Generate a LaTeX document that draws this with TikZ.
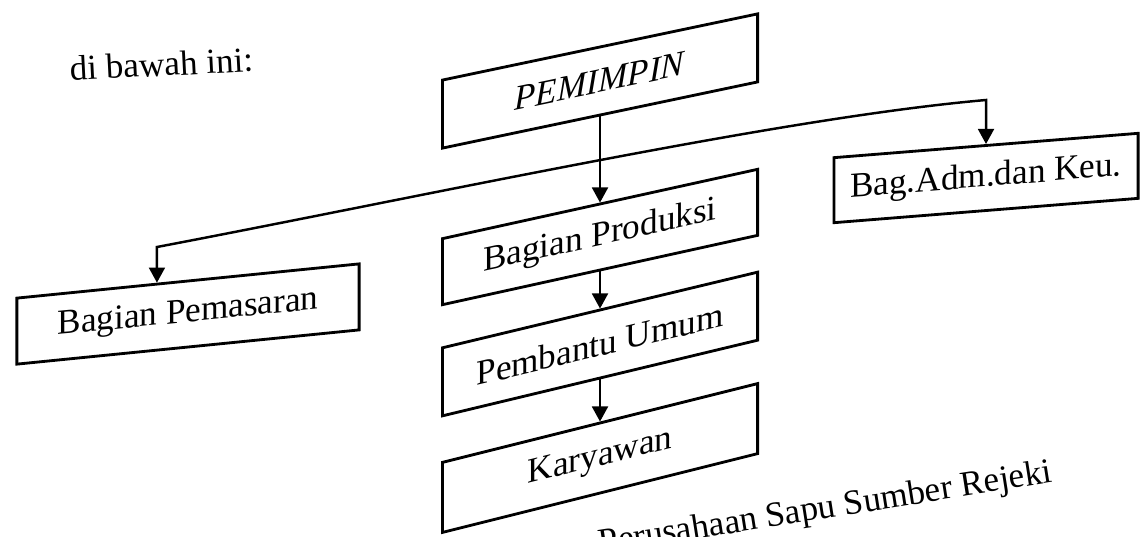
\documentclass[tikz,border=0pt]{standalone}
\usepackage{fontspec}
\setmainfont{Liberation Serif}
\usetikzlibrary{arrows.meta,calc}
\begin{document}
\begin{tikzpicture}[x=0.01cm,y=-0.01cm,
  lbl/.style={font=\fontsize{10}{12}\selectfont},
  box/.style={lbl, draw, line width=0.8pt, inner sep=0pt, minimum width=3.15cm, minimum height=0.68cm},
  conn/.style={line width=0.7pt, -{Triangle[width=4.5pt,length=4.3pt]}}]
\useasboundingbox (0,0) rectangle (1140,536);
% boxes
\node[box, yslant=0.21] (pem) at (600,81) {\textit{PEMIMPIN}};
\node[box, yslant=0.08, minimum width=3.04cm, minimum height=0.65cm] (adm) at (986,178) {Bag.Adm.dan Keu.};
\node[box, yslant=0.1, minimum width=3.42cm, minimum height=0.66cm] (pemas) at (188,314) {Bagian Pemasaran};
\node[box, yslant=0.22, minimum height=0.66cm] (prod) at (600,237) {Bagian Produksi};
\node[box, yslant=0.24] (pemb) at (600,344) {Pembantu Umum};
\node[box, yslant=0.25, minimum height=0.70cm] (kary) at (600,458) {Karyawan};
% texts
\node[lbl, rotate=3, anchor=base] (intro) at (162,76) {di bawah ini:};
\node[lbl, rotate=9, anchor=base west, inner sep=0pt] (cap) at (600,554) {Perusahaan Sapu Sumber Rejeki};
% connectors
\draw[conn] (pem.south) -- (prod.north);
\draw[conn] (prod.south) -- (pemb.north);
\draw[conn] (pemb.south) -- (kary.north);
\coordinate (pemasTop) at ($(pemas.north west)!0.41!(pemas.north east)$);
\coordinate (busL) at (157,247);
\coordinate (busR) at (988,100);
\draw[line width=0.7pt, {Triangle[width=4.5pt,length=4.3pt]}-{Triangle[width=4.5pt,length=4.3pt]}]
  (pemasTop) -- (pemasTop |- busL) .. controls (430,195) and (780,118) .. (adm.north |- busR) -- (adm.north);
\end{tikzpicture}
\end{document}
